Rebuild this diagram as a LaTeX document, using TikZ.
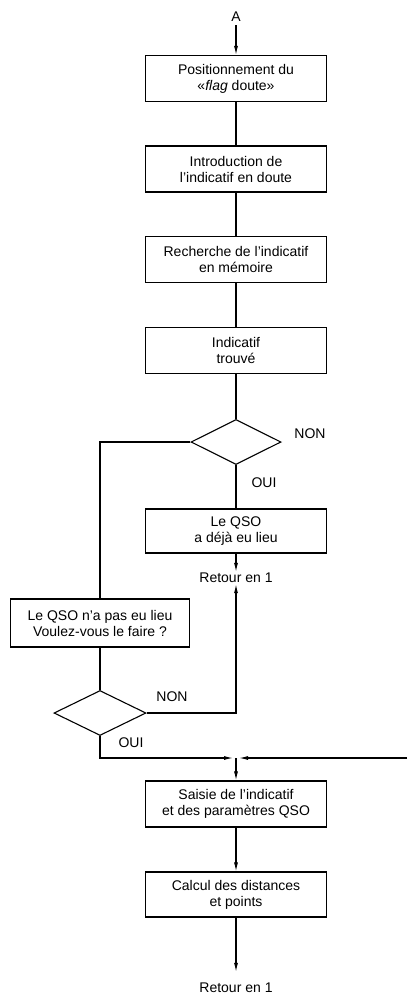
\documentclass[tikz,border=0pt]{standalone}
\usepackage{fontspec}
\setmainfont{Liberation Sans}
\usetikzlibrary{shapes.geometric,arrows.meta}
\begin{document}
\begin{tikzpicture}[x=1pt,y=-1pt,
  every node/.style={font=\fontsize{14}{16}\selectfont},
  box/.style={draw,line width=1.1pt,minimum width=181pt,minimum height=46pt,align=center,inner sep=2pt},
  dia/.style={draw,line width=1.1pt,diamond,minimum width=90pt,minimum height=45pt,inner sep=0pt},
  lbl/.style={inner sep=1pt},
  conn/.style={line width=1.1pt},
  arr/.style={line width=1.1pt,-{Latex[length=9pt,width=4pt]}}]
\useasboundingbox (0,0) rectangle (407,998);
\node[lbl] (A) at (236,17) {A};
\node[box] (b1) at (236,78.5) {Positionnement du\\«{\itshape flag} doute»};
\node[box] (b2) at (236,169) {Introduction de\\l’indicatif en doute};
\node[box] (b3) at (236,259.5) {Recherche de l’indicatif\\en mémoire};
\node[box] (b4) at (236,350.5) {Indicatif\\trouvé};
\node[dia] (d1) at (236,442) {};
\node[lbl] (non1) at (310,434) {NON};
\node[lbl] (oui1) at (264,483) {OUI};
\node[box,minimum height=44pt] (b5) at (236,531) {Le QSO\\a déjà eu lieu};
\node[lbl] (r1) at (236,578) {Retour en 1};
\node[box,minimum width=179pt,minimum height=48pt] (b6) at (100,623) {Le QSO n’a pas eu lieu\\Voulez-vous le faire ?};
\node[dia,minimum width=92pt] (d2) at (100,713) {};
\node[lbl] (non2) at (172,697) {NON};
\node[lbl] (oui2) at (131,743) {OUI};
\coordinate (j) at (236,758);
\coordinate (e) at (407,758);
\node[box] (b7) at (236,804) {Saisie de l’indicatif\\et des paramètres QSO};
\node[box,minimum height=45pt] (b8) at (236,894.5) {Calcul des distances\\et points};
\node[lbl] (r2) at (236,988) {Retour en 1};
\draw[arr,shorten <=2pt] (A) -- (b1);
\draw[conn] (b1) -- (b2);
\draw[conn] (b2) -- (b3);
\draw[conn] (b3) -- (b4);
\draw[conn] (b4) -- (d1);
\draw[conn] (d1.west) -| (b6.north);
\draw[conn] (d1.south) -- (b5.north);
\draw[arr] (b5.south) -- (r1.north);
\draw[conn] (b6.south) -- (d2.north);
\draw[arr] (d2.east) -| (r1.south);
\draw[arr,shorten >=3pt] (d2.south) |- (j);
\draw[arr,shorten >=3pt] (e) -- (j);
\draw[arr] (j) -- (b7.north);
\draw[arr] (b7) -- (b8);
\draw[arr,shorten >=10pt] (b8.south) -- (r2.north);
\end{tikzpicture}
\end{document}
